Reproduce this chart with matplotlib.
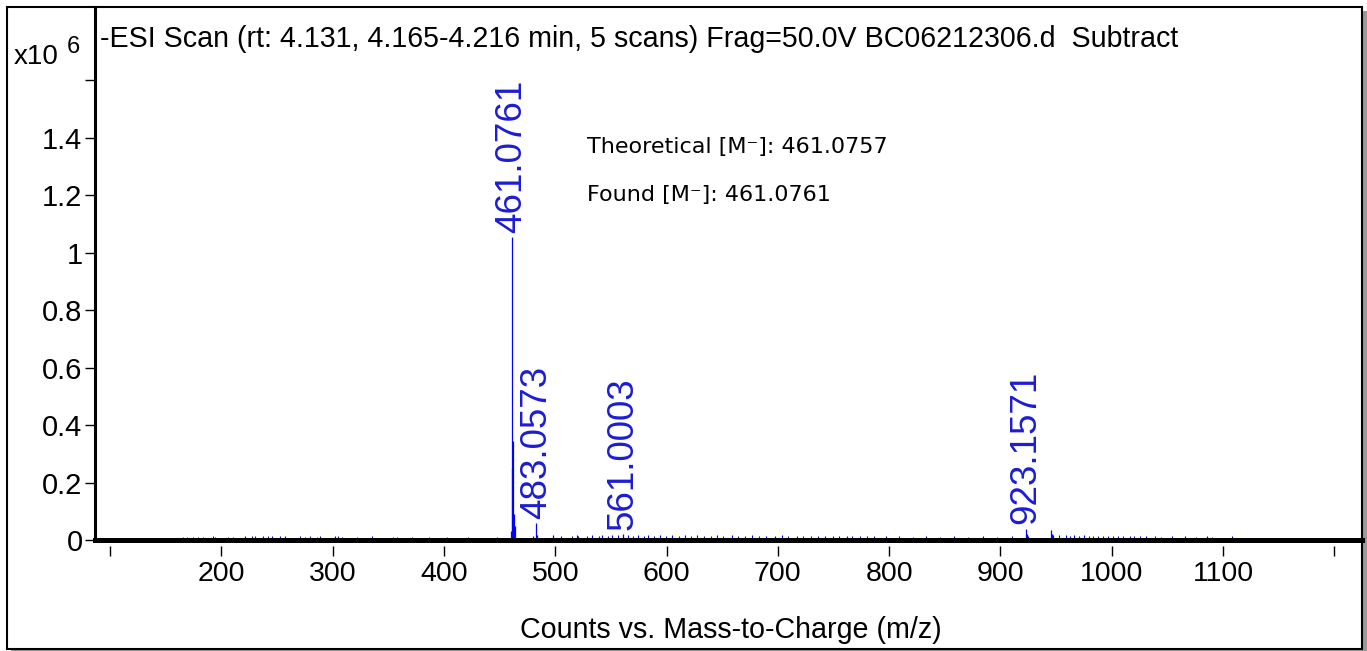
import matplotlib
matplotlib.use('Agg')
import matplotlib.pyplot as plt
from matplotlib import font_manager
from matplotlib.patches import Rectangle

# main sticks (m/z, counts in 10^6)
peak_mz = [460.6, 461.0761, 461.6, 462.08, 463.07, 464.07, 480.1, 483.0573, 484.06,
           498.2, 561.0003, 923.1571, 924.16, 925.2, 945.14, 946.15, 947.1]
peak_int = [0.03, 1.055, 0.25, 0.345, 0.09, 0.05, 0.014, 0.058, 0.018,
            0.016, 0.02, 0.04, 0.02, 0.014, 0.036, 0.022, 0.016]

# small noise sticks
low_mz = [165.9, 169.5, 174.9, 179.2, 183.9, 192.8, 194.0, 206.3, 210.8, 221.3, 227.3,
          230.3, 237.8, 242.3, 245.3, 252.7, 257.2, 270.7, 275.2, 279.7, 285.7, 288.7,
          302.2, 305.1, 308.2, 321.7, 335.1, 354.5, 357.6, 371.1, 386.4, 402.8, 421.5, 447.3]
low_int = [0.012, 0.011, 0.012, 0.011, 0.012, 0.013, 0.012, 0.012, 0.012, 0.014, 0.013,
           0.013, 0.014, 0.013, 0.014, 0.014, 0.013, 0.013, 0.012, 0.013, 0.012, 0.013,
           0.013, 0.014, 0.012, 0.012, 0.013, 0.012, 0.012, 0.012, 0.011, 0.012, 0.011, 0.012]

mid_mz = [505.3, 514.8, 519.3, 520.7, 528.4, 533.1, 538.9, 542.2, 547.6, 551.0, 556.3,
          565.2, 569.8, 574.1, 579.5, 583.0, 588.7, 593.9, 599.2, 604.6, 611.3, 616.8,
          622.0, 627.5, 633.9, 640.2, 645.7, 651.1, 658.4, 663.9, 670.2, 676.6, 683.1,
          689.8, 697.2, 703.5, 709.1, 716.8, 722.4, 729.6, 736.0, 742.3, 749.7, 755.2,
          761.8, 767.1, 773.5, 779.9, 786.2, 797.4, 808.9, 821.3, 833.6, 846.0, 858.7,
          871.2, 884.5, 897.1, 910.4]
mid_int = [0.015, 0.014, 0.016, 0.014, 0.015, 0.017, 0.015, 0.016, 0.014, 0.017, 0.018,
           0.016, 0.015, 0.017, 0.015, 0.016, 0.014, 0.017, 0.015, 0.016, 0.015, 0.017,
           0.014, 0.016, 0.015, 0.014, 0.016, 0.015, 0.017, 0.014, 0.015, 0.016, 0.014,
           0.015, 0.014, 0.016, 0.014, 0.015, 0.013, 0.015, 0.014, 0.013, 0.015, 0.014,
           0.015, 0.013, 0.014, 0.013, 0.014, 0.013, 0.013, 0.012, 0.013, 0.012, 0.013,
           0.012, 0.013, 0.012, 0.013]

high_mz = [952.3, 958.7, 962.1, 966.4, 970.8, 974.9, 979.3, 983.6, 988.0, 992.4, 996.7,
           1001.2, 1005.5, 1010.1, 1016.4, 1020.2, 1025.8, 1031.0, 1038.9, 1044.7, 1054.2,
           1066.0, 1075.3, 1085.6, 1090.1, 1108.0]
high_int = [0.017, 0.016, 0.015, 0.016, 0.015, 0.016, 0.014, 0.015, 0.015, 0.014, 0.015,
            0.014, 0.014, 0.013, 0.014, 0.013, 0.013, 0.013, 0.013, 0.012, 0.013,
            0.013, 0.012, 0.013, 0.012, 0.013]

label_mz = [461.0761, 483.0573, 561.0003, 923.1571]
label_int = [1.055, 0.058, 0.02, 0.04]

x_ticks = [100, 200, 300, 400, 500, 600, 700, 800, 900, 1000, 1100, 1200]
x_labels = ['', '200', '300', '400', '500', '600', '700', '800', '900', '1000', '1100', '']
y_ticks = [0, 0.2, 0.4, 0.6, 0.8, 1.0, 1.2, 1.4, 1.6]
y_labels = ['0', '0.2', '0.4', '0.6', '0.8', '1', '1.2', '1.4', '']

title = '-ESI Scan (rt: 4.131, 4.165-4.216 min, 5 scans) Frag=50.0V BC06212306.d  Subtract'

# pick a narrow sans if there is one
names = {f.name for f in font_manager.fontManager.ttflist}
if 'Liberation Sans Narrow' in names:
    narrow, k = 'Liberation Sans Narrow', 1.22
else:
    narrow, k = 'Liberation Sans', 1.0
regular = 'Liberation Sans'

W, H = 1367, 651
fig = plt.figure(figsize=(W / 100, H / 100), dpi=100)

# frame with grey drop shadow
fig.add_artist(Rectangle((11 / W, 0), (W - 11) / W, (H - 11) / H, transform=fig.transFigure,
                         facecolor='#9a9a9a', edgecolor='none', zorder=0))
fig.add_artist(Rectangle((7 / W, 2 / H), 1355 / W, 642 / H, transform=fig.transFigure,
                         facecolor='white', edgecolor='black', lw=1.5, zorder=0.5))

ax = fig.add_axes([95 / W, 111 / H, 1267 / W, 533 / H])
ax.set_facecolor('none')
ax.set_zorder(2)

blue = '#0000ff'
ax.vlines(low_mz + mid_mz + high_mz, 0, low_int + mid_int + high_int, color=blue, lw=0.8)
ax.vlines(peak_mz, 0, peak_int, color=blue, lw=0.9)

for mz, h in zip(label_mz, label_int):
    ax.annotate('%.4f' % mz, xy=(mz, h), xytext=(0, 3), textcoords='offset points',
                rotation=90, ha='center', va='bottom', fontsize=26.5,
                family=regular, color='#1c1cd4')

ax.set_xlim(86.5, 1224.9)
ax.set_ylim(0, 1.854)

for s in ['top', 'right']:
    ax.spines[s].set_visible(False)
ax.spines['left'].set_linewidth(2.2)
ax.spines['bottom'].set_linewidth(3.6)

ax.set_yticks(y_ticks, labels=y_labels)
ax.tick_params(axis='y', direction='out', length=7, width=1.0, pad=2,
               labelsize=21 * k, colors='black')
for t in ax.get_yticklabels():
    t.set_family(narrow)

ax.tick_params(axis='x', length=0, labelbottom=False)

# x ticks sit a little below the thick baseline
sec = ax.secondary_xaxis(-6 / 533)
sec.spines['bottom'].set_visible(False)
sec.set_xticks(x_ticks, labels=x_labels)
sec.tick_params(axis='x', direction='out', length=7, width=1.0, pad=4,
                labelsize=20.5 * k)
for t in sec.get_xticklabels():
    t.set_family(narrow)

fig.text(100 / W, (H - 47) / H, title, fontsize=20.6, family=regular, va='baseline')
fig.text(14 / W, (H - 64) / H, 'x10', fontsize=20 * k, family=narrow, va='baseline')
fig.text(67 / W, (H - 53) / H, '6', fontsize=17 * k, family=narrow, va='baseline')
fig.text(731 / W, (H - 638) / H, 'Counts vs. Mass-to-Charge (m/z)', fontsize=20.6 * k,
         family=narrow, ha='center', va='baseline')

fig.text(587 / W, (H - 153) / H, 'Theoretical [M\u207b]: 461.0757', fontsize=16,
         family='DejaVu Sans', va='baseline')
fig.text(587 / W, (H - 201) / H, 'Found [M\u207b]: 461.0761', fontsize=16,
         family='DejaVu Sans', va='baseline')

fig.savefig('out.png', dpi=100)
